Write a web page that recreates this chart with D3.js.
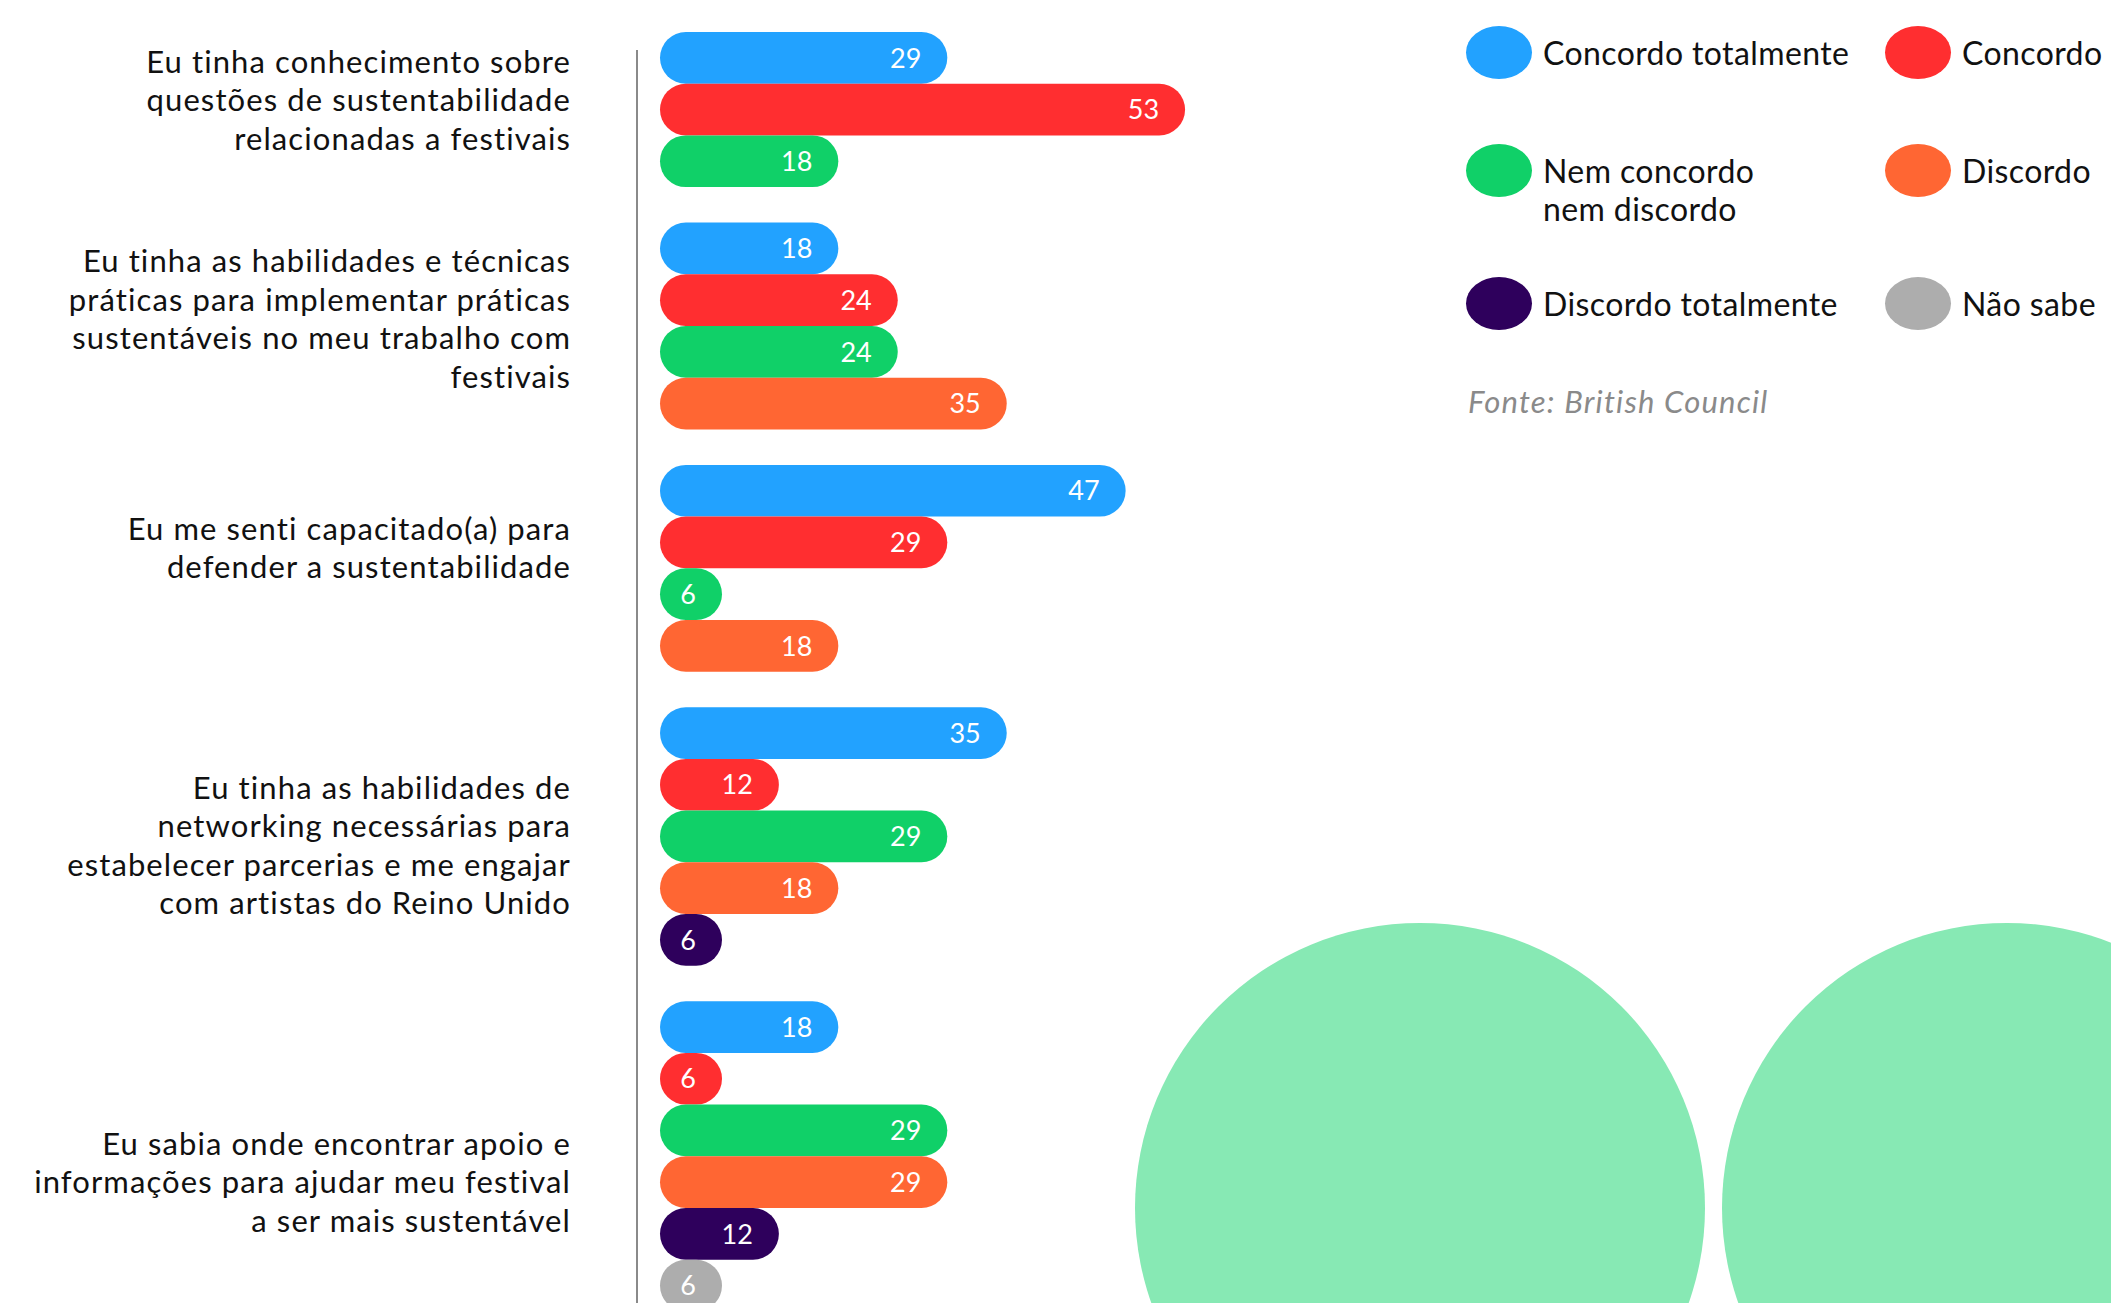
<!DOCTYPE html>
<html><head><meta charset="utf-8">
<script src="https://cdn.jsdelivr.net/npm/d3@7"></script>
<style>
html,body{margin:0;padding:0;background:#fff;overflow:hidden}
svg{display:block}
text{font-family:Lato,"Open Sans",sans-serif}
</style></head>
<body>
<script>
// ---- data ----
const categories = [
  ["Eu tinha conhecimento sobre","questões de sustentabilidade","relacionadas a festivais"],
  ["Eu tinha as habilidades e técnicas","práticas para implementar práticas","sustentáveis no meu trabalho com","festivais"],
  ["Eu me senti capacitado(a) para","defender a sustentabilidade"],
  ["Eu tinha as habilidades de","networking necessárias para","estabelecer parcerias e me engajar","com artistas do Reino Unido"],
  ["Eu sabia onde encontrar apoio e","informações para ajudar meu festival","a ser mais sustentável"]
];
const seriesNames = ["Concordo totalmente","Concordo","Nem concordo nem discordo","Discordo","Discordo totalmente","Não sabe"];
const legendLabels = [["Concordo totalmente"],["Concordo"],["Nem concordo","nem discordo"],["Discordo"],["Discordo totalmente"],["Não sabe"]];
const seriesColors = ["#22A2FF","#FF2E30","#10D068","#FF6633","#2E005C","#ADADAD"];
const concordoTotalmente = [29,18,47,35,18];
const concordo          = [53,24,29,12,6];
const nemConcordo       = [18,24,6,29,29];
const discordo          = [null,35,18,18,29];
const discordoTotalmente= [null,null,null,6,12];
const naoSabe           = [null,null,null,null,6];
const seriesValues = [concordoTotalmente,concordo,nemConcordo,discordo,discordoTotalmente,naoSabe];
const sourceText = "Fonte: British Council";

// ---- layout ----
const W = 2111, H = 1303;
const labelNudge = [-9,-7,-20,9,26];
const svg = d3.select("body").append("svg").attr("width",W).attr("height",H);

// decorative circles
svg.append("g").selectAll("circle").data([1420,2007]).join("circle")
  .attr("cx",d=>d).attr("cy",1208).attr("r",285).attr("fill","#87E9B4");

const barH = 51.7, groupGap = 35.5, top0 = 32, barX0 = 660;
const x = d3.scaleLinear().domain([0,100]).range([barX0, barX0+990.7]);

// build bar rows
const rows = [];
let yCursor = top0;
const groupInfo = [];
categories.forEach((cat,gi)=>{
  const start = yCursor;
  seriesValues.forEach((vals,si)=>{
    const v = vals[gi];
    if(v!=null){ rows.push({g:gi,s:si,v:v,y:yCursor}); yCursor += barH; }
  });
  groupInfo.push({start:start,end:yCursor,lines:cat});
  yCursor += groupGap;
});

// axis line
svg.append("line").attr("x1",637).attr("x2",637).attr("y1",50).attr("y2",H)
  .attr("stroke","#8a8a8a").attr("stroke-width",2);

// bars
const bars = svg.append("g");
bars.selectAll("rect").data(rows).join("rect")
  .attr("x",barX0).attr("y",d=>d.y)
  .attr("width",d=>Math.max(x(d.v)-barX0, 62)).attr("height",barH)
  .attr("rx",barH/2).attr("ry",barH/2)
  .attr("fill",d=>seriesColors[d.s]);
bars.selectAll("text").data(rows).join("text")
  .attr("x",d=>Math.max(x(d.v),barX0+62)-26).attr("y",d=>d.y+barH/2)
  .attr("dy","0.36em").attr("text-anchor","end")
  .attr("fill","#fff").attr("font-size",27).text(d=>d.v);

// category labels
const lineH = 38.5;
const lab = svg.append("g");
groupInfo.forEach((gr,gi)=>{
  const c = (gr.start+gr.end)/2 + labelNudge[gi];
  const n = gr.lines.length;
  const t = lab.append("text").attr("text-anchor","end").attr("font-size",31)
    .attr("letter-spacing","1.1px").attr("fill","#111");
  gr.lines.forEach((ln,i)=>{
    t.append("tspan").attr("x",571).attr("y",c+(i-(n-1)/2)*lineH).attr("dy","0.35em").text(ln);
  });
});

// legend
const legX = [1466,1885], legY = [26,144,277], mW = 66, mH = 53;
const leg = svg.append("g");
seriesNames.forEach((nm,i)=>{
  const col = i%2, row = Math.floor(i/2);
  const gx = legX[col], gy = legY[row];
  leg.append("rect").attr("x",gx).attr("y",gy).attr("width",mW).attr("height",mH)
    .attr("rx",mW/2).attr("ry",mH/2).attr("fill",seriesColors[i]);
  const t = leg.append("text").attr("font-size",32).attr("letter-spacing","0.4px").attr("fill","#111");
  legendLabels[i].forEach((ln,k)=>{
    t.append("tspan").attr("x",gx+mW+11).attr("y",gy+39+k*38).text(ln);
  });
});
svg.append("text").attr("x",1468).attr("y",413).attr("font-size",31).attr("letter-spacing","1.2px")
  .attr("font-style","italic").attr("fill","#8a8a8a").text(sourceText);
</script>
</body></html>
